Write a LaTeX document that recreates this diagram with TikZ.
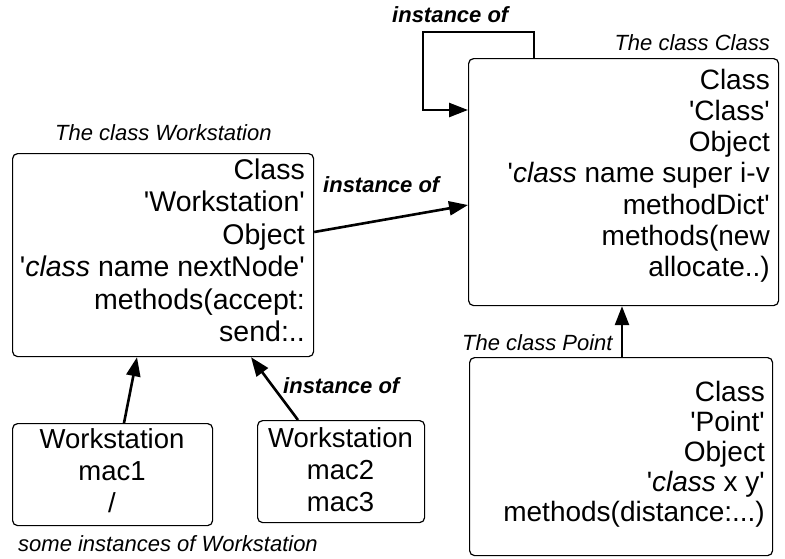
\documentclass[tikz,border=0pt]{standalone}
\usepackage{fontspec}
\setmainfont{Liberation Sans}
\usetikzlibrary{arrows.meta}
\newcommand{\myq}{\textquotesingle}
\tikzset{
  box/.style={draw, line width=1.2pt, rounded corners=5pt, anchor=north west, inner sep=0pt},
  boxtext/.style={inner sep=0pt, align=right, anchor=north east},
  insttext/.style={inner sep=0pt, align=center, anchor=north, font=\fontsize{27.5}{32}\selectfont},
  lbl/.style={inner sep=0pt, font=\fontsize{22}{26}\selectfont\itshape},
  rel/.style={inner sep=0pt, font=\fontsize{22}{26}\selectfont\bfseries\itshape},
  arr/.style={line width=2.6pt, -{Triangle[length=19pt,width=14pt]}},
}
\begin{document}
\begin{tikzpicture}[x=1pt,y=-1pt]
\useasboundingbox (0,0) rectangle (785,558);
% boxes
\node[box, minimum width=310pt, minimum height=247pt] (cls) at (468,58) {};
\node[box, minimum width=301pt, minimum height=203pt] (ws) at (12,153) {};
\node[box, minimum width=200pt, minimum height=102pt] (m1) at (12,423) {};
\node[box, minimum width=167pt, minimum height=102pt] (m2) at (257,420) {};
\node[box, minimum width=303pt, minimum height=198pt] (pt) at (469,357) {};
% box texts
\node[boxtext, font=\fontsize{28}{31.3}\selectfont] (clst) at (770,68.6)
  {Class\\\myq Class\myq\\Object\\\myq\textit{class} name super i-v\\methodDict\myq\\methods(new\\allocate..)};
\node[boxtext, font=\fontsize{28.5}{32.5}\selectfont] (wst) at (305,158.6)
  {Class\\\myq Workstation\myq\\Object\\\myq\textit{class} name nextNode\myq\\methods(accept:\\send:..};
\node[boxtext, font=\fontsize{28}{30}\selectfont] (ptt) at (765,380.6)
  {Class\\\myq Point\myq\\Object\\\myq\textit{class} x y\myq\\methods(distance:...)};
\node[insttext] (m1t) at (112,428.3) {Workstation\\mac1\\/};
\node[insttext] (m2t) at (340.5,427.3) {Workstation\\mac2\\mac3};
% labels
\node[lbl, anchor=base east] (lcls) at (770,50) {The class Class};
\node[lbl, anchor=base west] (lws) at (55,140) {The class Workstation};
\node[lbl, anchor=base west] (lpt) at (462,350) {The class Point};
\node[lbl, anchor=base west] (linst) at (18,551) {some instances of Workstation};
\node[rel, anchor=base west] (r1) at (392,22) {instance of};
\node[rel, anchor=base west] (r2) at (323,192) {instance of};
\node[rel, anchor=base west] (r3) at (283,393) {instance of};
% connectors
\draw[arr] ([xshift=66pt]cls.north west) -- ++(0,-26) -- ++(-111,0) -- ++(0,78) -- ([yshift=-52pt]cls.north west);
\draw[arr] ([yshift=-79pt]ws.north east) -- ([yshift=-147pt]cls.north west);
\draw[arr] ([xshift=112pt]m1.north west) -- ([xshift=125pt]ws.south west);
\draw[arr] ([xshift=41pt]m2.north west) -- ([xshift=239pt]ws.south west);
\draw[arr] ([xshift=153pt]pt.north west) coordinate (p0) -- (p0 |- cls.south);
\end{tikzpicture}
\end{document}
